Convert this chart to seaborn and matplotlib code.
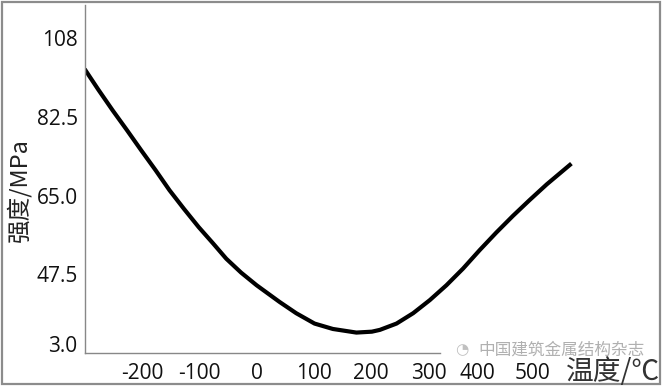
import numpy as np
import pandas as pd
import matplotlib
matplotlib.use("Agg")
import matplotlib.pyplot as plt
import seaborn as sns
from matplotlib.patches import Rectangle
import matplotlib.transforms as mtransforms

# Data
temperature = [-300, -276, -251, -226, -201, -176, -152, -127, -101, -76, -53, -27,
               0, 40, 69, 101, 133, 174, 201, 215, 244, 273, 302, 331, 360, 389,
               418, 447, 476, 506, 549]
strength = [93.1, 88.5, 83.9, 79.5, 75.0, 70.6, 66.2, 62.1, 58.0, 54.4, 51.0, 47.9,
            45.1, 41.4, 38.9, 36.6, 35.4, 34.6, 34.8, 35.2, 36.6, 38.9, 41.8, 45.1,
            48.8, 52.9, 56.8, 60.5, 64.0, 67.5, 72.1]

x_ticks = [-200, -100, 0, 100, 200, 300, 400, 500]
y_ticks = [30, 47.5, 65, 82.5, 100]
y_tick_labels = ["3.0", "47.5", "65.0", "82.5", "108"]

df = pd.DataFrame({"温度": temperature, "强度": strength})

sns.set_style("white")
plt.rcParams["font.family"] = ["Open Sans", "Noto Sans CJK SC", "DejaVu Sans"]
cjk = ["Noto Sans CJK SC", "DejaVu Sans"]

fig = plt.figure(figsize=(6.64, 3.91), dpi=100)
ax = fig.add_axes([84.6 / 664, (391 - 353.3) / 391, (658 - 84.6) / 664, (353.3 - 5) / 391])

sns.lineplot(data=df, x="温度", y="强度", ax=ax, color="black", linewidth=3.0,
             solid_joinstyle="round", solid_capstyle="butt")

ax.set_xlim(-300, 700)
ax.set_ylim(30, 107.3)
ax.set_xticks(x_ticks)
ax.set_xticklabels([str(t) for t in x_ticks])
ax.set_yticks(y_ticks)
ax.set_yticklabels(y_tick_labels)

ax.tick_params(axis="x", direction="in", length=5, width=0.8, color="#888888",
               labelsize=15, pad=7, labelcolor="#111111")
ax.tick_params(axis="y", direction="in", length=6.5, width=0.8, color="#888888",
               labelsize=15, pad=5, labelcolor="#111111")

# the bottom y label sits a bit higher in the original
lbl = ax.get_yticklabels()[0]
lbl.set_transform(lbl.get_transform() + mtransforms.ScaledTranslation(0, 7 / 72, fig.dpi_scale_trans))

# 400 / 500 labels are drawn a little left, their tick marks are hidden by the watermark
for i, dx in [(6, -9), (7, -11)]:
    t = ax.get_xticklabels()[i]
    t.set_transform(t.get_transform() + mtransforms.ScaledTranslation(dx / 100, 0, fig.dpi_scale_trans))
    ax.xaxis.get_major_ticks()[i].tick1line.set_visible(False)

for side in ["top", "right"]:
    ax.spines[side].set_visible(False)
for side in ["left", "bottom"]:
    ax.spines[side].set_color("#888888")
    ax.spines[side].set_linewidth(1.0)
ax.spines["bottom"].set_bounds(-300, 320)

ax.set_xlabel("")
ax.set_ylabel("强度/MPa", fontsize=17, family=cjk, color="#222222")
ax.yaxis.set_label_coords(-0.093, 0.47)

fig.text(0.994, 0.028, "温度/℃", fontsize=20, ha="right", va="baseline",
         family=cjk, color="#333333")

# watermark
fig.text(478 / 664, 1 - 350 / 391, "中国建筑金属结构杂志", fontsize=12, ha="left", va="center",
         family=cjk, color="#b0b0b0")
fig.text(462 / 664, 1 - 350 / 391, "◔", fontsize=11, ha="center", va="center",
         family=["DejaVu Sans"], color="#c0c0c0")

# outer frame
fig.patches.append(Rectangle((1.5 / 664, (391 - 384) / 391), 658 / 664, 382 / 391,
                             transform=fig.transFigure, fill=False,
                             edgecolor="#8c8c8c", linewidth=1.6))

fig.savefig("out.png", dpi=100)
